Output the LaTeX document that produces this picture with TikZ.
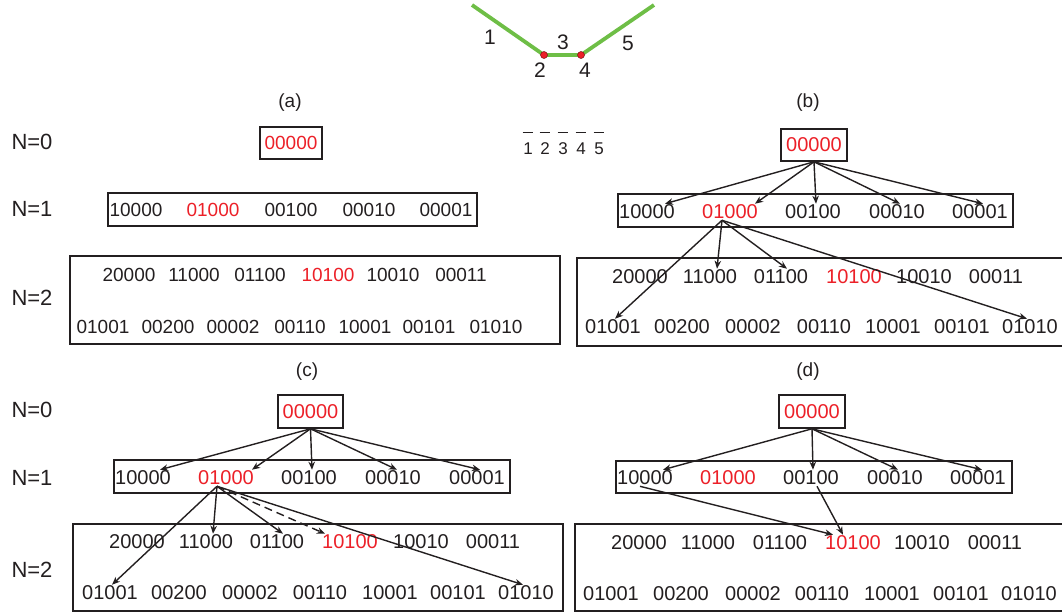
\documentclass[tikz,border=0pt]{standalone}
\usepackage{fontspec}
\setmainfont{Liberation Sans}
\usetikzlibrary{arrows.meta}
\definecolor{vred}{RGB}{236,32,40}
\definecolor{vgreen}{RGB}{110,190,70}
\definecolor{dotline}{RGB}{120,20,20}
\definecolor{ink}{RGB}{35,31,32}
\begin{document}
\begin{tikzpicture}[x=1pt,y=-1pt,
  box/.style={draw=ink, line width=1.6pt, inner sep=0pt},
  item/.style={inner sep=1pt, text=ink, font=\fontsize{20}{24}\selectfont},
  itema/.style={inner sep=1pt, text=ink, font=\fontsize{19}{23}\selectfont},
  lvl/.style={inner sep=0pt, text=ink, font=\fontsize{22}{26}\selectfont},
  panelcap/.style={inner sep=0pt, text=ink, font=\fontsize{19}{23}\selectfont},
  segnum/.style={inner sep=0pt, text=ink, font=\fontsize{21}{25}\selectfont},
  barnum/.style={inner ysep=0pt, inner xsep=0.5pt, text=ink, font=\fontsize{17}{20}\selectfont},
  arr/.style={draw=ink, line width=1.4pt, -{Stealth[length=8pt,width=6.5pt,inset=2.5pt]}},
  dasharr/.style={arr, dash pattern=on 8pt off 5pt},
  ]
\useasboundingbox (0,0) rectangle (1062,613);

% ---------------- top sketch ----------------
\coordinate (p1) at (472,5);
\coordinate (p2) at (544,55);
\coordinate (p4) at (581,55);
\coordinate (p5) at (654,5);
\draw[vgreen, line width=3.8pt, line join=round] (p1) -- (p2) -- (p4) -- (p5);
\fill[vred, draw=dotline, line width=0.5pt] (p2) circle (3.5pt);
\fill[vred, draw=dotline, line width=0.5pt] (p4) circle (3.5pt);
\node[segnum] (s1) at (490,37) {1};
\node[segnum] (s2) at (540,70) {2};
\node[segnum] (s3) at (563,42) {3};
\node[segnum] (s4) at (585,70) {4};
\node[segnum] (s5) at (628,43) {5};

% overbar digits
\foreach \x [count=\i] in {528,545,563,581,599} {
  \node[barnum] (o\i) at (\x,149) {\i};
  \draw[ink, line width=0.9pt] ([yshift=10.5pt]o\i.north west) -- ([yshift=10.5pt]o\i.north east);
}

% ---------------- level labels ----------------
\node[lvl] (la0) at (32,142) {N=0};
\node[lvl] (la1) at (32,209) {N=1};
\node[lvl] (la2) at (32,298) {N=2};
\node[lvl] (lc0) at (32,410) {N=0};
\node[lvl] (lc1) at (32,478) {N=1};
\node[lvl] (lc2) at (32,570) {N=2};

% ---------------- panel (a) ----------------
\node[panelcap] (capa) at (290,103) {(a)};
\node[box, minimum width=62pt, minimum height=32pt, font=\fontsize{19}{23}\selectfont, text=vred] (a0) at (291,143) {00000};
\node[box, minimum width=369pt, minimum height=33pt] (a1) at (292.5,209.5) {};
\foreach \x/\t/\c [count=\i] in {136/10000/ink,213/01000/vred,291/00100/ink,369/00010/ink,446/00001/ink}
  \node[itema, text=\c] (a1-\i) at (\x,210) {\t};
\node[box, minimum width=490pt, minimum height=88pt] (a2) at (315,300) {};
\foreach \x/\t/\c [count=\i] in {129/20000/ink,194/11000/ink,260/01100/ink,328/10100/vred,393/10010/ink,461/00011/ink}
  \node[itema, text=\c] (a2-\i) at (\x,275) {\t};
\foreach \x/\t [count=\i] in {103/01001,168/00200,233/00002,300/00110,365/10001,429/00101,496/01010}
  \node[itema] (a3-\i) at (\x,327) {\t};

% ---------------- panel (b) ----------------
\node[panelcap] (capb) at (808,103) {(b)};
\node[box, minimum width=66pt, minimum height=32pt, font=\fontsize{20}{24}\selectfont, text=vred] (b0) at (814,145) {00000};
\node[box, minimum width=395pt, minimum height=33pt] (b1) at (815.5,210.5) {};
\foreach \x/\t/\c [count=\i] in {647/10000/ink,730/01000/vred,813/00100/ink,897/00010/ink,980/00001/ink}
  \node[item, text=\c] (b1-\i) at (\x,212) {\t};
\node[box, minimum width=493pt, minimum height=88pt] (b2) at (823.5,302) {};
\foreach \x/\t/\c [count=\i] in {640/20000/ink,710/11000/ink,781/01100/ink,854/10100/vred,924/10010/ink,996/00011/ink}
  \node[item, text=\c] (b2-\i) at (\x,277) {\t};
\foreach \x/\t [count=\i] in {613/01001,682/00200,753/00002,824/00110,893/10001,962/00101,1030/01010}
  \node[item] (b3-\i) at (\x,327) {\t};
\draw[arr] (b0.south) -- ([xshift=18pt]b1-1.north);
\draw[arr] (b0.south) -- ([xshift=25pt]b1-2.north);
\draw[arr] (b0.south) -- ([xshift=3pt]b1-3.north);
\draw[arr] (b0.south) -- ([xshift=3pt]b1-4.north);
\draw[arr] (b0.south) -- ([xshift=3pt]b1-5.north);
\coordinate (bs) at ([xshift=-8pt]b1-2.south);
\draw[arr] (bs) -- ([xshift=2pt]b3-1.north);
\draw[arr] (bs) -- ([xshift=7pt]b2-2.north);
\draw[arr] (bs) -- ([xshift=6pt]b2-3.north);
\draw[arr] (bs) -- ([xshift=-3pt]b3-7.north);

% ---------------- panel (c) ----------------
\node[panelcap] (capc) at (307,372) {(c)};
\node[box, minimum width=65pt, minimum height=33pt, font=\fontsize{20}{24}\selectfont, text=vred] (c0) at (310.5,411.5) {00000};
\node[box, minimum width=396pt, minimum height=33pt] (c1) at (312,476.5) {};
\foreach \x/\t/\c [count=\i] in {143/10000/ink,226/01000/vred,309/00100/ink,393/00010/ink,477/00001/ink}
  \node[item, text=\c] (c1-\i) at (\x,478) {\t};
\node[box, minimum width=490pt, minimum height=87pt] (c2) at (318,567.5) {};
\foreach \x/\t/\c [count=\i] in {137/20000/ink,206/11000/ink,277/01100/ink,350/10100/vred,421/10010/ink,493/00011/ink}
  \node[item, text=\c] (c2-\i) at (\x,542) {\t};
\foreach \x/\t [count=\i] in {110/01001,179/00200,250/00002,320/00110,390/10001,458/00101,526/01010}
  \node[item] (c3-\i) at (\x,593) {\t};
\draw[arr] (c0.south) -- ([xshift=17pt]c1-1.north);
\draw[arr] (c0.south) -- ([xshift=26pt]c1-2.north);
\draw[arr] (c0.south) -- ([xshift=3pt]c1-3.north);
\draw[arr] (c0.south) -- ([xshift=4pt]c1-4.north);
\draw[arr] (c0.south) -- ([xshift=3pt]c1-5.north);
\coordinate (cs) at ([xshift=-9pt]c1-2.south);
\draw[arr] (cs) -- ([xshift=2pt]c3-1.north);
\draw[arr] (cs) -- ([xshift=7pt]c2-2.north);
\draw[arr] (cs) -- ([xshift=6pt]c2-3.north);
\draw[dasharr] (cs) -- ([xshift=-25pt]c2-4.north);
\draw[arr] (cs) -- ([xshift=-3pt]c3-7.north);

% ---------------- panel (d) ----------------
\node[panelcap] (capd) at (808,372) {(d)};
\node[box, minimum width=66pt, minimum height=33pt, font=\fontsize{20}{24}\selectfont, text=vred] (d0) at (812,411.5) {00000};
\node[box, minimum width=396pt, minimum height=32pt] (d1) at (814,477) {};
\foreach \x/\t/\c [count=\i] in {645/10000/ink,728/01000/vred,811/00100/ink,895/00010/ink,978/00001/ink}
  \node[item, text=\c] (d1-\i) at (\x,478) {\t};
\node[box, minimum width=495pt, minimum height=87pt] (d2) at (822.5,567.5) {};
\foreach \x/\t/\c [count=\i] in {639/20000/ink,708/11000/ink,780/01100/ink,853/10100/vred,922/10010/ink,995/00011/ink}
  \node[item, text=\c] (d2-\i) at (\x,543) {\t};
\foreach \x/\t [count=\i] in {611/01001,681/00200,753/00002,822/00110,892/10001,961/00101,1029/01010}
  \node[item] (d3-\i) at (\x,594) {\t};
\draw[arr] (d0.south) -- ([xshift=18pt]d1-1.north);
\draw[arr] (d0.south) -- ([xshift=2pt]d1-3.north);
\draw[arr] (d0.south) -- ([xshift=3pt]d1-4.north);
\draw[arr] (d0.south) -- ([xshift=4pt]d1-5.north);
\draw[arr] ([xshift=-5pt]d1-1.south) -- ([xshift=-20pt]d2-4.north);
\draw[arr] ([xshift=6pt]d1-3.south) -- ([xshift=-10pt]d2-4.north);
\end{tikzpicture}
\end{document}
